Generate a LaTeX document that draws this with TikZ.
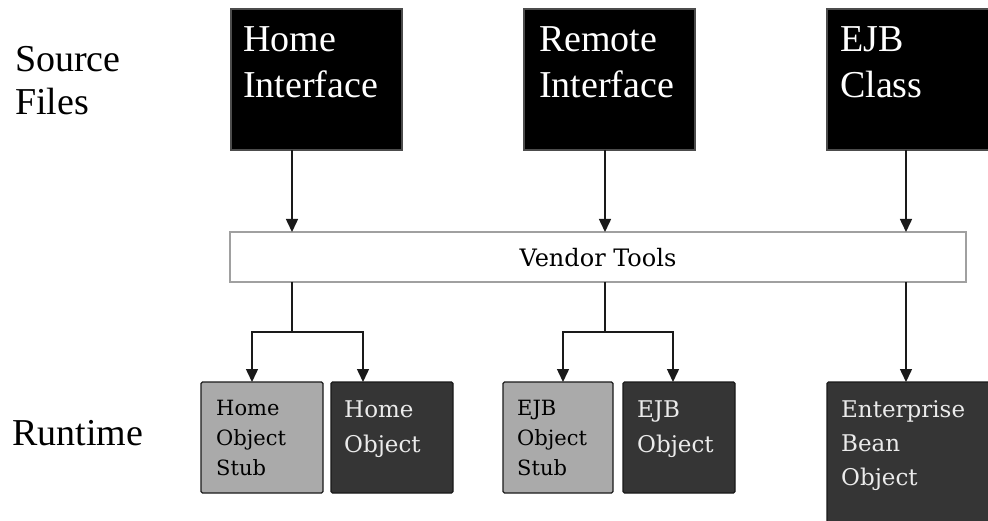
\documentclass[tikz,border=0pt]{standalone}
\usepackage{fontspec}
\setmainfont{Liberation Serif}
\newfontfamily\slabfont{DejaVu Serif}
\usetikzlibrary{arrows.meta,calc}
\definecolor{darkfill}{HTML}{353535}
\definecolor{stubfill}{HTML}{AAAAAA}
\definecolor{lineclr}{HTML}{1A1A1A}
\definecolor{vendorline}{HTML}{A0A0A0}
\definecolor{lighttext}{HTML}{EBEBEB}
\begin{document}
\begin{tikzpicture}[x=1pt,y=-1pt,
  topbox/.style={draw=black!70, line width=1.2pt, fill=black, inner sep=0pt, outer sep=0pt, anchor=north west},
  vendorbox/.style={draw=vendorline, line width=1.5pt, fill=white, inner sep=0pt, outer sep=0pt, anchor=north west, minimum width=736pt, minimum height=50pt},
  stubbox/.style={draw=lineclr, line width=1.3pt, fill=stubfill, rounded corners=1.5pt, inner sep=0pt, outer sep=0pt, anchor=north west},
  darkbox/.style={draw=black!90, line width=1.3pt, fill=darkfill, rounded corners=1.5pt, inner sep=0pt, outer sep=0pt, anchor=north west},
  toptxt/.style={text=white, font=\fontsize{38}{46}\selectfont, align=left, inner sep=0pt, anchor=base west},
  sidetxt/.style={font=\fontsize{38}{43}\selectfont, align=left, inner sep=0pt, anchor=base west},
  stubtxt/.style={text=black, font=\slabfont\fontsize{21}{30}\selectfont, align=left, inner sep=0pt, anchor=base west},
  darktxt/.style={text=lighttext, font=\slabfont\fontsize{23}{35}\selectfont, align=left, inner sep=0pt, anchor=base west},
  entxt/.style={text=lighttext, font=\slabfont\fontsize{23}{34}\selectfont, align=left, inner sep=0pt, anchor=base west},
  vtxt/.style={text=black, font=\slabfont\fontsize{24}{28}\selectfont, inner sep=0pt, anchor=base},
  conn/.style={draw=lineclr, line width=1.5pt},
  arr/.style={conn, -{Triangle[width=12pt,length=13pt]}}
]
\useasboundingbox (0,0) rectangle (988,521);

% side labels (anchor = baseline of last line)
\node[sidetxt] (srcl) at (15,115) {Source\\Files};
\node[sidetxt] (rtl) at (12,445) {Runtime};

% source boxes
\node[topbox, minimum width=171pt, minimum height=141pt] (home) at (231,9) {};
\node[topbox, minimum width=171pt, minimum height=141pt] (remote) at (524,9) {};
\node[topbox, minimum width=175pt, minimum height=141pt] (ejbc) at (827,9) {};
\node[toptxt] (homeT) at ($(home.north west)+(12,89)$) {Home\\Interface};
\node[toptxt] (remoteT) at ($(remote.north west)+(15,89)$) {Remote\\Interface};
\node[toptxt] (ejbcT) at ($(ejbc.north west)+(13,89)$) {EJB\\Class};

% vendor tools
\node[vendorbox] (vendor) at (230,232) {};
\node[vtxt] (vendorT) at ($(vendor.north)+(0,35)$) {Vendor Tools};

% runtime boxes
\node[stubbox, minimum width=122pt, minimum height=111pt] (hstub) at (201,382) {};
\node[darkbox, minimum width=122pt, minimum height=111pt] (hobj) at (331,382) {};
\node[stubbox, minimum width=110pt, minimum height=111pt] (estub) at (503,382) {};
\node[darkbox, minimum width=112pt, minimum height=111pt] (eobj) at (623,382) {};
\node[darkbox, minimum width=175pt, minimum height=150pt] (bean) at (827,382) {};

\node[stubtxt] (hstubT) at ($(hstub.north west)+(15,93)$) {Home\\Object\\Stub};
\node[darktxt] (hobjT) at ($(hobj.north west)+(13,70)$) {Home\\Object};
\node[stubtxt] (estubT) at ($(estub.north west)+(14,93)$) {EJB\\Object\\Stub};
\node[darktxt] (eobjT) at ($(eobj.north west)+(14,70)$) {EJB\\Object};
\node[entxt] (beanT) at ($(bean.north west)+(14,103)$) {Enterprise\\Bean\\Object};

% arrows from sources to vendor tools
\coordinate (hA) at ($(home.south west)+(61,0)$);
\coordinate (rA) at ($(remote.south west)+(81,0)$);
\coordinate (eA) at ($(ejbc.south west)+(79,0)$);
\draw[arr] (hA) -- (hA |- vendor.north);
\draw[arr] (rA) -- (rA |- vendor.north);
\draw[arr] (eA) -- (eA |- vendor.north);

% from vendor tools to runtime
\coordinate (hJ) at ($(hA |- vendor.south)+(0,50)$);
\coordinate (rJ) at ($(rA |- vendor.south)+(0,50)$);
\draw[conn] (hA |- vendor.south) -- (hJ);
\draw[arr] (hJ) -| ($(hstub.north west)+(51,0)$);
\draw[arr] (hJ) -| ($(hobj.north west)+(32,0)$);
\draw[conn] (rA |- vendor.south) -- (rJ);
\draw[arr] (rJ) -| ($(estub.north west)+(60,0)$);
\draw[arr] (rJ) -| ($(eobj.north west)+(50,0)$);
\draw[arr] (eA |- vendor.south) -- (eA |- bean.north);
\end{tikzpicture}
\end{document}
